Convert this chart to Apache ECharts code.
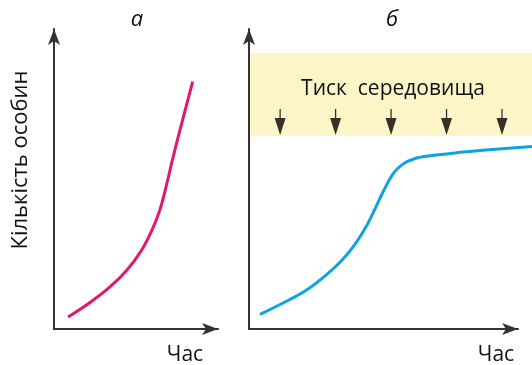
<!DOCTYPE html>
<html><head><meta charset="utf-8">
<script src="https://cdn.jsdelivr.net/npm/echarts@6/dist/echarts.min.js"></script>
<style>html,body{margin:0;padding:0;background:#fff}#c{width:532px;height:365px}</style>
</head><body><div id="c"></div>
<script>
// texts
const panelTitles = ['а', 'б'];
const axisNameX = 'Час';
const axisNameY = 'Кількість особин';
const pressureLabel = 'Тиск  середовища';
// panel а: exponential (J-shaped) growth
const timeA = [9.0, 23.1, 35.9, 46.8, 55.8, 62.8, 67.9, 71.8, 75.6, 80.1, 84.6, 88.9];
const countA = [4.1, 9.1, 14.4, 20.2, 26.7, 33.9, 40.8, 48.6, 57.2, 66.8, 76.0, 84.7];
// panel б: logistic (S-shaped) growth
const timeB = [3.9, 12.0, 19.8, 26.9, 32.9, 37.8, 41.3, 44.5, 47.7, 50.9, 54.1, 58.7, 64.7, 72.8, 81.6, 90.5, 100];
const countB = [5.0, 8.9, 13.0, 18.2, 23.6, 29.5, 34.9, 41.1, 47.6, 53.1, 56.3, 58.4, 59.4, 60.3, 61.1, 61.8, 62.5];
// environmental pressure zone
const pressureBand = [66.1, 94.5];
const pressureArrowsX = [11, 30.6, 50.2, 69.8, 89.4];
const pressureArrowY = 70.9;

const FONT = '"Open Sans", "Noto Sans", sans-serif';
const AXIS_COLOR = '#333';

function arrowAxis(gridIndex) {
  return {
    gridIndex, type: 'value', min: 0, max: 100, z: 10,
    axisLine: { show: true, onZero: false, symbol: ['none', 'arrow'], symbolSize: [9, 16],
      lineStyle: { color: AXIS_COLOR, width: 2 } },
    axisTick: { show: false }, axisLabel: { show: false }, splitLine: { show: false }
  };
}
function hiddenAxis(gridIndex) {
  return { gridIndex, type: 'value', min: 0, max: 100, show: false, splitLine: { show: false } };
}

const chart = echarts.init(document.getElementById('c'), null, { renderer: 'canvas' });
chart.setOption({
  animation: false,
  backgroundColor: '#fff',
  grid: [
    { left: 54, top: 29, width: 164, height: 300 },   // axes of panel а
    { left: 249, top: 29, width: 269, height: 300 },  // axes of panel б
    { left: 54, top: 37, width: 156, height: 292 },   // data of panel а
    { left: 249, top: 37, width: 283, height: 292 }   // data of panel б
  ],
  xAxis: [arrowAxis(0), arrowAxis(1), hiddenAxis(2), hiddenAxis(3)],
  yAxis: [arrowAxis(0), arrowAxis(1), hiddenAxis(2), hiddenAxis(3)],
  series: [
    {
      type: 'line', xAxisIndex: 2, yAxisIndex: 2, smooth: 0.35, symbol: 'none',
      lineStyle: { color: '#e0166f', width: 3 },
      data: timeA.map((t, i) => [t, countA[i]])
    },
    {
      type: 'line', xAxisIndex: 3, yAxisIndex: 3, smooth: 0.35, symbol: 'none', z: 3,
      lineStyle: { color: '#0ea3e0', width: 3 },
      data: timeB.map((t, i) => [t, countB[i]]),
      markArea: {
        silent: true, z: 1,
        itemStyle: { color: '#fdf4c7' },
        data: [[{ coord: [0, pressureBand[0]] }, { coord: [100, pressureBand[1]] }]]
      }
    },
    {
      type: 'scatter', xAxisIndex: 3, yAxisIndex: 3, z: 4,
      symbol: 'path://M5.3,0 L6.7,0 L6.7,9 L12,9 L6,26 L0,9 L5.3,9 Z',
      symbolSize: [11, 26],
      itemStyle: { color: '#000' },
      data: pressureArrowsX.map(x => [x, pressureArrowY])
    }
  ],
  graphic: [
    { type: 'text', z: 100, x: 137, y: 20, style: { text: panelTitles[0], font: 'italic 22px ' + FONT, fill: '#111', align: 'center', verticalAlign: 'middle' } },
    { type: 'text', z: 100, x: 392, y: 20, style: { text: panelTitles[1], font: 'italic 22px ' + FONT, fill: '#111', align: 'center', verticalAlign: 'middle' } },
    { type: 'text', z: 100, x: 393, y: 89, style: { text: pressureLabel, font: '21px ' + FONT, fill: '#111', align: 'center', verticalAlign: 'middle' } },
    { type: 'text', z: 100, x: 185, y: 355, style: { text: axisNameX, font: '21px ' + FONT, fill: '#111', align: 'center', verticalAlign: 'middle' } },
    { type: 'text', z: 100, x: 496, y: 355, style: { text: axisNameX, font: '21px ' + FONT, fill: '#111', align: 'center', verticalAlign: 'middle' } },
    { type: 'text', z: 100, x: 21, y: 160, rotation: Math.PI / 2, style: { text: axisNameY, font: '22px ' + FONT, fill: '#111', align: 'center', verticalAlign: 'middle' } }
  ]
});
</script>
</body></html>
